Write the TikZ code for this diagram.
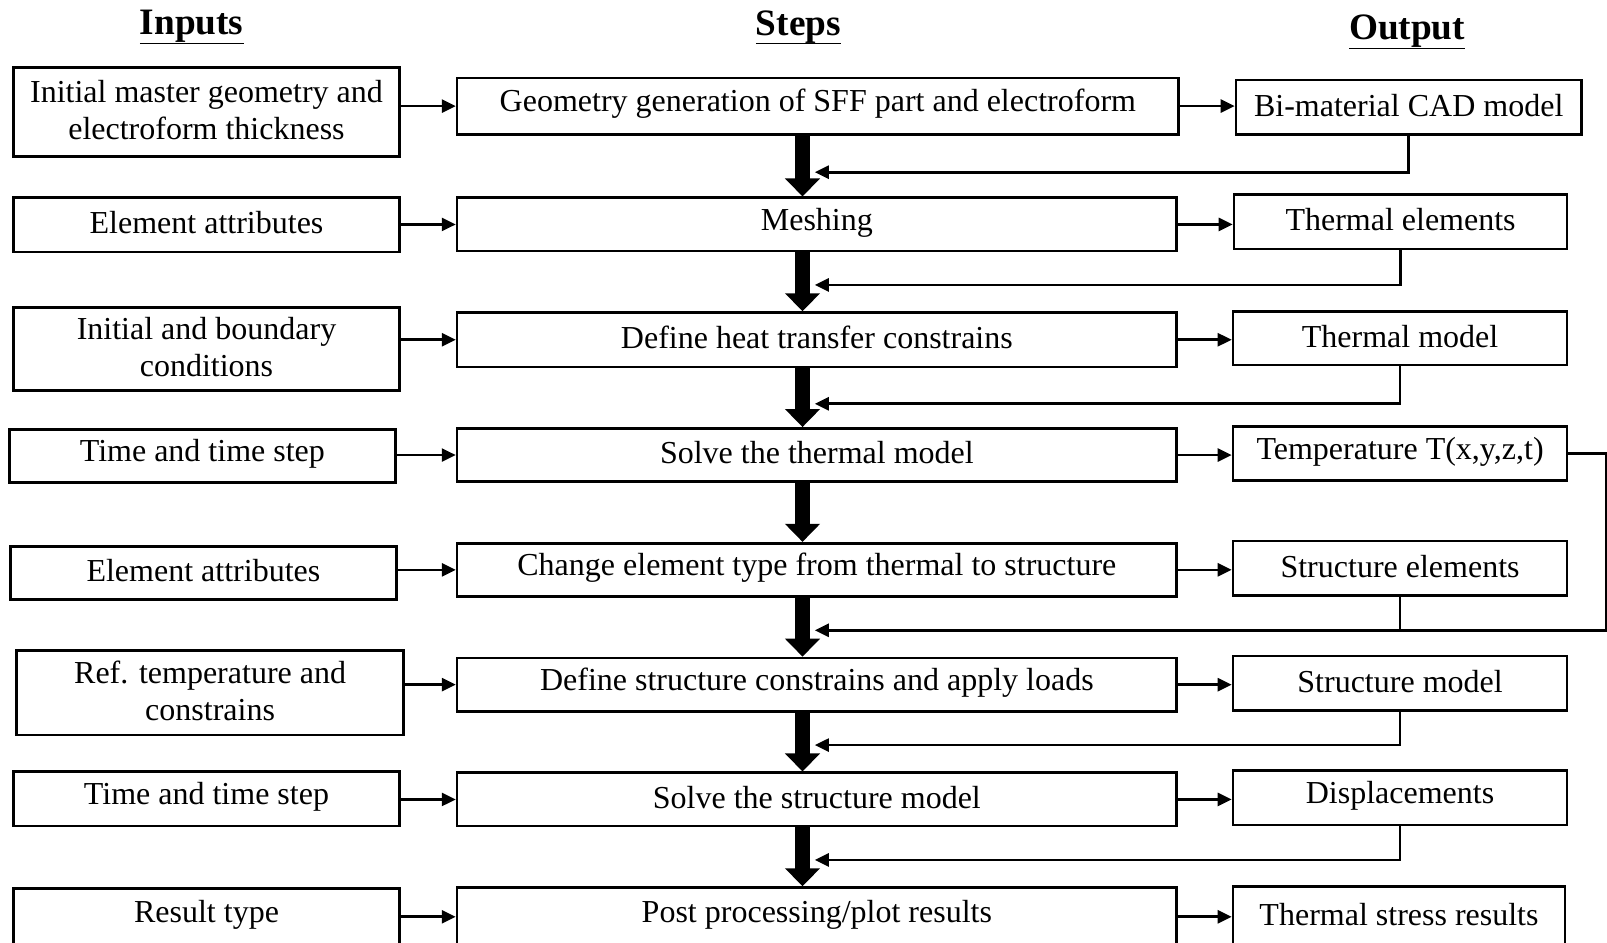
\documentclass[tikz,border=0pt]{standalone}
\usepackage{fontspec}
\setmainfont{Liberation Serif}
\usetikzlibrary{arrows.meta,fit,calc}

\tikzset{
  frame/.style={draw, line width=0.75pt, inner sep=0pt, rectangle},
  boxtext/.style={font=\fontsize{9.1}{10.6}\selectfont, align=center, inner sep=0pt},
  colhead/.style={font=\fontsize{10.6}{12}\selectfont\bfseries, inner sep=0pt},
  feed/.style={line width=0.75pt, -{Triangle[length=0.14cm,width=0.13cm]}},
  plainline/.style={line width=0.75pt},
  flow/.style={line width=0.155cm, -{Triangle[length=0.18cm,width=0.34cm]}},
}

% box named #1 spanning (#2,#3)-(#4,#5) with centred text #6
\newcommand\flowbox[6]{%
  \node[frame, fit={(#2,#3) (#4,#5)}] (#1) {};
  \node[boxtext] (#1t) at ([yshift=0.02cm]#1.center) {#6};
}
% column heading: underlined, the text sitting a little closer to its rule
\newcommand\colheading[1]{\underline{\raisebox{-1.2pt}[\height][\depth]{#1}}}

\begin{document}
\begin{tikzpicture}[x=0.01cm, y=-0.01cm]
\useasboundingbox (0,0) rectangle (1607,943);
\clip (0,0) rectangle (1607,943);

% column headings
\node[colhead] (hin)  at (191.7,26) {\colheading{Inputs}};
\node[colhead] (hst)  at (798.4,26) {\colheading{Steps}};
\node[colhead] (hout) at (1407,30.5)  {\colheading{Output}};

% inputs
\flowbox{L1}{13.3}{67.6}{399.7}{156.8}{Initial master geometry and\\electroform thickness}
\flowbox{L2}{13.3}{197.8}{399.7}{252.1}{Element attributes}
\flowbox{L3}{13.3}{307.5}{399.7}{390.5}{Initial and boundary\\conditions}
\flowbox{L4}{9.2}{429.4}{395.6}{482.7}{Time and time step}
\flowbox{L5}{10.2}{546.3}{396.6}{599.6}{Element attributes}
\flowbox{L6}{16.4}{650.8}{403.8}{734.9}{Ref. temperature and\\constrains}
\flowbox{L7}{13.3}{771.8}{399.7}{826.1}{Time and time step}
\flowbox{L8}{13.3}{888.6}{399.7}{946}{Result type}

% steps
\flowbox{M1}{457.1}{77.9}{1178.6}{134.3}{Geometry generation of SFF part and electroform}
\flowbox{M2}{457.1}{197.8}{1176.6}{251.1}{Meshing}
\flowbox{M3}{457.1}{312.6}{1176.6}{366.9}{Define heat transfer constrains}
\flowbox{M4}{457.1}{428.4}{1176.6}{481.7}{Solve the thermal model}
\flowbox{M5}{457.1}{543.2}{1176.6}{596.5}{Change element type from thermal to structure}
\flowbox{M6}{457.1}{658.0}{1176.6}{711.3}{Define structure constrains and apply loads}
\flowbox{M7}{457.1}{772.8}{1176.6}{826.1}{Solve the structure model}
\flowbox{M8}{457.1}{887.6}{1176.6}{946}{Post processing/plot results}

% outputs
\flowbox{R1}{1236}{79.9}{1581.4}{134.3}{Bi-material CAD model}
\flowbox{R2}{1234}{194.7}{1567.1}{249}{Thermal elements}
\flowbox{R3}{1233}{311.6}{1567.1}{364.9}{Thermal model}
\flowbox{R4}{1233}{426.4}{1567.1}{480.7}{Temperature T(x,y,z,t)}
\flowbox{R5}{1233}{541.1}{1567.1}{595.5}{Structure elements}
\flowbox{R6}{1233}{655.9}{1567.1}{710.3}{Structure model}
\flowbox{R7}{1233}{770.7}{1567.1}{825.1}{Displacements}
\flowbox{R8}{1233}{886.5}{1565}{946}{Thermal stress results}

% inputs feed the steps, steps produce the outputs
\foreach \i in {1,...,8}{
  \draw[feed] (L\i.east |- M\i.west) -- (M\i.west);
  \draw[feed] (M\i.east) -- (M\i.east -| R\i.west);
}

% main sequence of steps
\coordinate (spine) at (802.5,0);
\foreach \i/\j in {1/2,2/3,3/4,4/5,5/6,6/7,7/8}{
  \draw[flow] (M\i.south -| spine) -- (M\j.north -| spine);
}

% outputs returned into the sequence
\coordinate (in1) at (814.8,172.2);
\coordinate (in2) at (814.8,284.9);
\coordinate (in3) at (814.8,403.8);
\coordinate (in5) at (814.8,630.3);
\coordinate (in6) at (814.8,745.1);
\coordinate (in7) at (814.8,859.9);
\coordinate (rim) at (1606.3,0);

\draw[feed] (R1.south) |- (in1);
\draw[feed] (R2.south) |- (in2);
\draw[feed] (R3.south) |- (in3);
\draw[feed] (R4.east) -- (R4.east -| rim) |- (in5);
\draw[plainline] (R5.south) -- (R5.south |- in5);
\draw[feed] (R6.south) |- (in6);
\draw[feed] (R7.south) |- (in7);
\end{tikzpicture}
\end{document}
